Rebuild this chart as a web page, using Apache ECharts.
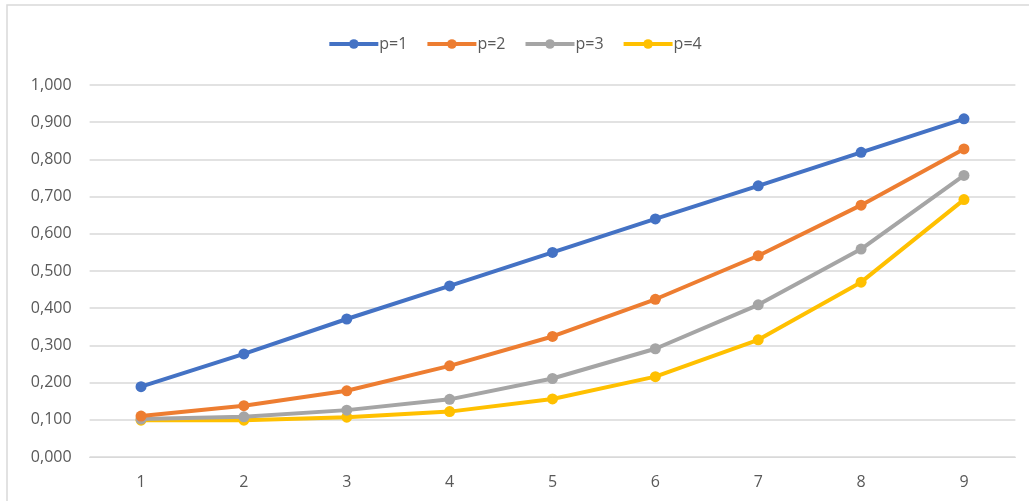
<!DOCTYPE html>
<html>
<head>
<meta charset="utf-8">
<script src="https://cdn.jsdelivr.net/npm/echarts@6/dist/echarts.min.js"></script>
<style>
html,body{margin:0;padding:0;background:#fff;}
#chart{width:1029px;height:501px;}
</style>
</head>
<body>
<div id="chart"></div>
<script>
const categories = ['1','2','3','4','5','6','7','8','9'];
const seriesNames = ['p=1','p=2','p=3','p=4'];
const p1 = [0.189, 0.277, 0.371, 0.460, 0.550, 0.640, 0.729, 0.819, 0.909];
const p2 = [0.110, 0.138, 0.178, 0.245, 0.324, 0.424, 0.541, 0.677, 0.828];
const p3 = [0.102, 0.108, 0.126, 0.155, 0.211, 0.291, 0.409, 0.559, 0.757];
const p4 = [0.099, 0.099, 0.107, 0.122, 0.156, 0.216, 0.315, 0.470, 0.692];
const colors = ['#4472C4', '#ED7D31', '#A5A5A5', '#FFC000'];
const values = [p1, p2, p3, p4];

const chart = echarts.init(document.getElementById('chart'), null, {renderer: 'canvas'});
const font = 'Open Sans';
chart.setOption({
  animation: false,
  backgroundColor: '#fff',
  color: colors,
  graphic: [{
    type: 'rect',
    shape: {x: 7, y: 5, width: 1100, height: 600},
    style: {fill: 'none', stroke: '#d9d9d9', lineWidth: 1.5},
    silent: true
  }],
  legend: {
    top: 31,
    left: 'center',
    itemWidth: 49,
    itemHeight: 12,
    itemGap: 18,
    lineStyle: {width: 4},
    textStyle: {color: '#595959', fontSize: 16, fontFamily: font, padding: [0,0,0,-4]},
    data: seriesNames
  },
  grid: {left: 89.6, right: 13.6, top: 85, bottom: 44, containLabel: false},
  xAxis: {
    type: 'category',
    data: categories,
    boundaryGap: true,
    axisLine: {show: true, lineStyle: {color: '#d9d9d9', width: 1}},
    axisTick: {show: false},
    axisLabel: {color: '#595959', fontSize: 16, fontFamily: font, margin: 17}
  },
  yAxis: {
    type: 'value',
    min: 0, max: 1, interval: 0.1,
    axisLine: {show: false},
    axisTick: {show: false},
    splitLine: {lineStyle: {color: '#d9d9d9', width: 1.5}},
    axisLabel: {
      color: '#595959', fontSize: 16, fontFamily: font, margin: 18,
      formatter: v => v.toFixed(3).replace('.', ',')
    }
  },
  series: values.map((d, i) => ({
    name: seriesNames[i],
    type: 'line',
    data: d,
    symbol: 'circle',
    symbolSize: 11,
    lineStyle: {width: 4, color: colors[i]},
    itemStyle: {color: colors[i]},
    z: 10 - i
  }))
});
</script>
</body>
</html>
